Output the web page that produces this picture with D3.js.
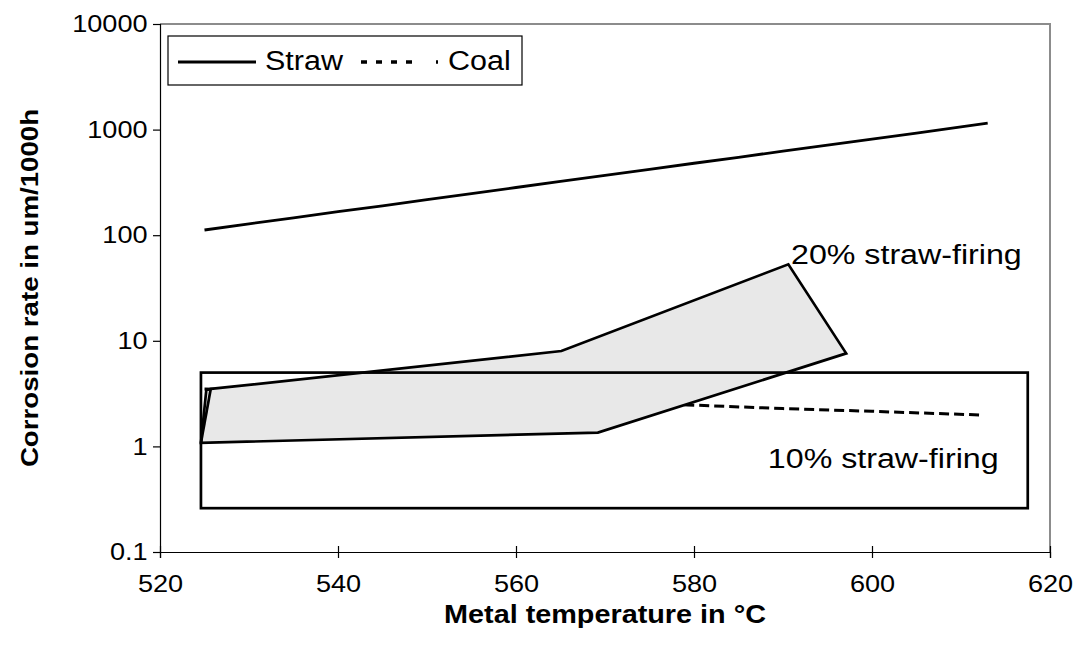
<!DOCTYPE html>
<html><head><meta charset="utf-8">
<script src="https://cdn.jsdelivr.net/npm/d3@7"></script>
<style>body{margin:0;background:#fff;} text{font-family:"Liberation Sans",Arial,sans-serif;fill:#000;}</style>
</head><body><svg id="c" width="1074" height="655"></svg>
<script>
// ---- data ----
const strawTemp = [525, 530, 535, 540, 545, 550, 555, 560, 565, 570, 575, 580, 585, 590, 595, 600, 605, 610, 613];
const strawRate = [112, 128, 146, 167, 190, 217, 248, 283, 323, 368, 420, 480, 547, 625, 713, 813, 928, 1060, 1150];
const coalTemp = [525, 540, 560, 579.3, 590, 600, 612.4];
const coalRate = [3.5, 3.1, 2.75, 2.47, 2.28, 2.15, 1.98];
const polyTemp = [524.6, 525.2, 525.7, 565.1, 590.6, 597.1, 569.2];
const polyRate = [1.08, 3.4, 3.5, 8.0, 53, 7.6, 1.35];
const rectTemp = [524.6, 617.5];
const rectRate = [0.26, 5.0];
const labelText = ["20% straw-firing", "10% straw-firing"];
const labelTemp = [590.9, 588.3];
const labelRate = [53.4, 0.62];
const legendNames = ["Straw", "Coal"];
const xTicks = [520, 540, 560, 580, 600, 620];
const yTicks = [0.1, 1, 10, 100, 1000, 10000];
const yTickLabels = ["0.1", "1", "10", "100", "1000", "10000"];
const xTitle = "Metal temperature in °C";
const yTitle = "Corrosion rate in um/1000h";

// ---- layout ----
const L = 160, R = 1050, T = 24, B = 552;
const SX = 1.13;
const svg = d3.select("#c");
const x = d3.scaleLinear().domain([520, 620]).range([L, R]);
const y = d3.scaleLog().domain([0.1, 10000]).range([B, T]);

// plot border (top/right grey)
svg.append("path").attr("d", `M${L},${T}H${R}V${B}`).attr("fill", "none").attr("stroke", "#8c8c8c").attr("stroke-width", 2);

const line = d3.line().x(d => x(d[0])).y(d => y(d[1]));

// coal (under polygon)
svg.append("path").datum(coalTemp.map((t, i) => [t, coalRate[i]]))
  .attr("d", line).attr("fill", "none").attr("stroke", "#000").attr("stroke-width", 3)
  .attr("stroke-dasharray", "10,5");

// polygon
const poly = polyTemp.map((t, i) => [t, polyRate[i]]);
svg.append("path").datum(poly).attr("d", d => line(d) + "Z")
  .attr("fill", "#e8e8e8").attr("stroke", "#000").attr("stroke-width", 2.7).attr("stroke-linejoin", "miter");
svg.append("path").datum([poly[0], poly[2]]).attr("d", line)
  .attr("fill", "none").attr("stroke", "#000").attr("stroke-width", 2.7);

// rectangle
svg.append("rect").attr("x", x(rectTemp[0])).attr("y", y(rectRate[1]))
  .attr("width", x(rectTemp[1]) - x(rectTemp[0])).attr("height", y(rectRate[0]) - y(rectRate[1]))
  .attr("fill", "none").attr("stroke", "#000").attr("stroke-width", 2.7);

// straw
svg.append("path").datum(strawTemp.map((t, i) => [t, strawRate[i]]))
  .attr("d", line).attr("fill", "none").attr("stroke", "#000").attr("stroke-width", 2.8);

// annotations
labelText.forEach((s, i) => {
  svg.append("text").attr("transform", `translate(${x(labelTemp[i])},${y(labelRate[i])}) scale(1.15,1)`)
    .attr("font-size", 28).text(s);
});

// axes
const xa = svg.append("g").attr("transform", `translate(0,${B})`)
  .call(d3.axisBottom(x).tickValues(xTicks).tickFormat(d3.format("d")).tickSize(6).tickPadding(17));
xa.selectAll(".tick line").attr("y1", -6).attr("stroke-width", 1.2);
xa.select(".domain").attr("stroke-width", 1.2);
xa.selectAll("text").attr("font-size", 24).attr("font-family", "Liberation Sans, Arial, sans-serif")
  .attr("transform", `scale(${SX},1)`);

const ya = svg.append("g").attr("transform", `translate(${L},0)`)
  .call(d3.axisLeft(y).tickValues(yTicks).tickFormat((d, i) => yTickLabels[i]).tickSize(7).tickPadding(4));
ya.selectAll(".tick line").attr("stroke-width", 1.2);
ya.select(".domain").attr("stroke-width", 1.2);
ya.selectAll("text").attr("font-size", 24).attr("font-family", "Liberation Sans, Arial, sans-serif")
  .attr("transform", `scale(${SX},1)`);

// axis titles
svg.append("text").attr("transform", `translate(${(L + R) / 2},${623}) scale(${SX},1)`)
  .attr("text-anchor", "middle").attr("font-weight", "bold").attr("font-size", 25.5).text(xTitle);
svg.append("text").attr("transform", `translate(${38},${(T + B) / 2}) rotate(-90) scale(${SX},1)`)
  .attr("text-anchor", "middle").attr("font-weight", "bold").attr("font-size", 24.5).text(yTitle);

// legend
const lg = svg.append("g");
lg.append("rect").attr("x", 168).attr("y", 36).attr("width", 354).attr("height", 49)
  .attr("fill", "#fff").attr("stroke", "#000").attr("stroke-width", 1.2);
const legX = [178, 361];
legendNames.forEach((n, i) => {
  lg.append("line").attr("x1", legX[i]).attr("x2", legX[i] + 78).attr("y1", 62).attr("y2", 62)
    .attr("stroke", "#000").attr("stroke-width", i === 1 ? 3.5 : 2.8)
    .attr("stroke-dasharray", i === 1 ? "6,9,6,9,6,9,6,24,2,20" : null);
  lg.append("text").attr("transform", `translate(${legX[i] + 87},${70}) scale(${SX},1)`)
    .attr("font-size", 27).text(n);
});
</script></body></html>
